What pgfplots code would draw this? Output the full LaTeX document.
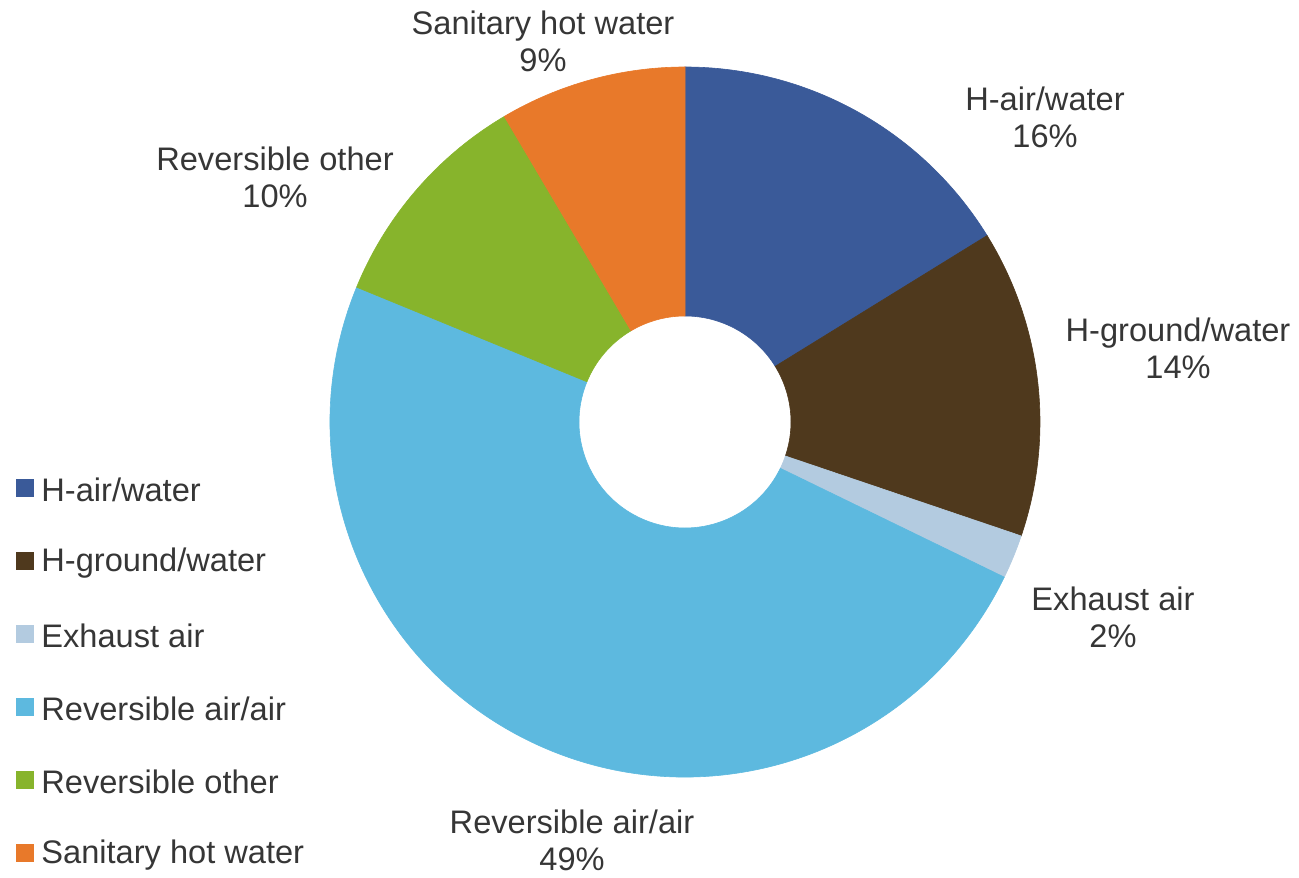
\documentclass[border=0pt]{standalone}
\usepackage{pgfplots}
\pgfplotsset{compat=1.18}
\usepackage{fontspec}
\setmainfont{Liberation Sans}
\definecolor{cA}{HTML}{3A5A99}
\definecolor{cB}{HTML}{4F391D}
\definecolor{cC}{HTML}{B3CBE0}
\definecolor{cD}{HTML}{5DB9DF}
\definecolor{cE}{HTML}{87B42C}
\definecolor{cF}{HTML}{E8792A}
\definecolor{txt}{HTML}{363636}
% shares (%) as drawn: H-air/water 16.2, H-ground/water 14, Exhaust air 2,
% Reversible air/air 49, Reversible other 10.3, Sanitary hot water 8.5
% cumulative: 0 16.2 30.2 32.2 81.2 91.5 100
\newcommand{\slice}[3]{%
  \fill[#3, draw=#3, line width=0.3pt] (axis cs:685,455) ++({90-3.6*#1}:177.5pt)
    arc[start angle={90-3.6*#1}, end angle={90-3.6*#2}, radius=177.5pt]
    -- ++({270-3.6*#2}:124.5pt)
    arc[start angle={90-3.6*#2}, end angle={90-3.6*#1}, radius=53pt] -- cycle;}
\newcommand{\legitem}[3]{%
  \fill[#2] (axis cs:16,{877-#1-9}) rectangle (axis cs:34,{877-#1+9});
  \node[anchor=west, inner sep=0pt, text=txt, font=\fontsize{16.3}{18.5}\selectfont] at (axis cs:41,{877-#1-2}) {#3};}
\begin{document}
\begin{tikzpicture}
\begin{axis}[
  width=649.5pt, height=438.5pt, scale only axis,
  xmin=0, xmax=1299, ymin=0, ymax=877,
  hide axis, clip=false]
\addplot[draw=none] coordinates {(0,0) (1299,877)};
\slice{0}{16.2}{cA}
\slice{16.2}{30.2}{cB}
\slice{30.2}{32.2}{cC}
\slice{32.2}{81.2}{cD}
\slice{81.2}{91.5}{cE}
\slice{91.5}{100}{cF}
\begin{scope}[every node/.style={align=center, text=txt, inner sep=0pt, font=\fontsize{16.3}{18.5}\selectfont}]
\node at (axis cs:543,{877-41.5}) {Sanitary hot water\\9\%};
\node at (axis cs:1045,{877-117.5}) {H-air/water\\16\%};
\node at (axis cs:275,{877-177.5}) {Reversible other\\10\%};
\node at (axis cs:1178,{877-348}) {H-ground/water\\14\%};
\node at (axis cs:1113,{877-617}) {Exhaust air\\2\%};
\node at (axis cs:572,{877-840}) {Reversible air/air\\49\%};
\end{scope}
\legitem{488}{cA}{H-air/water}
\legitem{561}{cB}{H-ground/water}
\legitem{634}{cC}{Exhaust air}
\legitem{707}{cD}{Reversible air/air}
\legitem{780}{cE}{Reversible other}
\legitem{853}{cF}{Sanitary hot water}
\end{axis}
\end{tikzpicture}
\end{document}
